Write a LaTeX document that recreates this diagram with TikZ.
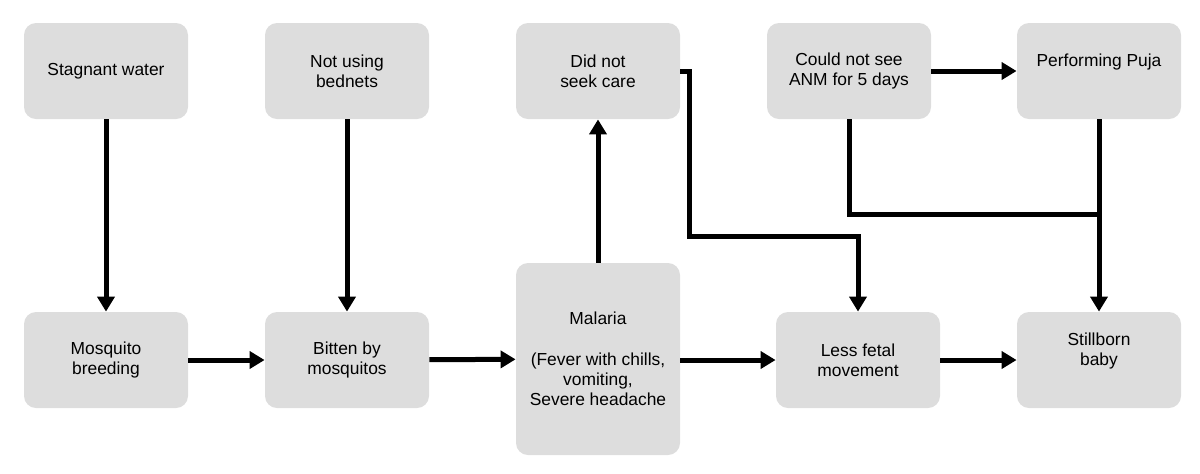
\documentclass[tikz,border=0pt]{standalone}
\usepackage{fontspec}
\setmainfont{Liberation Sans}
\usetikzlibrary{arrows.meta}
\definecolor{boxgray}{HTML}{DDDDDD}
\begin{document}
\begin{tikzpicture}[x=0.5pt,y=-0.5pt,
  box/.style={fill=boxgray,draw=none,rounded corners=6pt,minimum width=82pt,minimum height=48pt,
    align=center,font=\fontsize{8.7}{10.2}\selectfont,inner sep=0pt},
  conn/.style={line width=2.5pt,-{Triangle[length=7.5pt,width=8.5pt]}},
  plain/.style={line width=2.5pt}]
\useasboundingbox (0,0) rectangle (1200,473);
% top row
\node[box] (sw) at (106,71) {Stagnant water};
\node[box] (nb) at (347,71) {Not using\\bednets};
\node[box] (dn) at (598,71) {Did not\\seek care};
\node[box] (cn) at (849,71) {Could not see\\ANM for 5 days};
\node[box] (pp) at (1099,71) {};
\node[font=\fontsize{8.7}{10.2}\selectfont] (pptext) at (1099,62) {Performing Puja};
% bottom row
\node[box] (mb) at (106,360) {Mosquito\\breeding};
\node[box] (bm) at (347,360) {Bitten by\\mosquitos};
\node[box,minimum height=96pt] (ma) at (598,359) {Malaria\\[10pt](Fever with chills,\\vomiting,\\Severe headache};
\node[box] (lf) at (858,360) {Less fetal\\movement};
\node[box] (sb) at (1099,360) {};
\node[font=\fontsize{8.7}{10.2}\selectfont,align=center] (sbtext) at (1099,351) {Stillborn\\baby};
\coordinate (j1) at (849,214);
\coordinate (j2) at (1099,214);
\coordinate (d1) at (689,71);
\coordinate (d2) at (689,236);
\coordinate (d3) at (858,236);
% connectors
\draw[conn] (sw) -- (mb);
\draw[conn] (nb) -- (bm);
\draw[conn] (ma) -- (dn);
\draw[conn] (mb) -- (bm);
\draw[conn] (bm) -- (ma);
\draw[conn] (ma.east |- lf) -- (lf);
\draw[conn] (lf) -- (sb);
\draw[conn] (cn) -- (pp);
\draw[conn] (dn.east) -- (d1) -- (d2) -- (d3) -- (lf.north);
\draw[plain] (cn.south) -- (j1) -- (j2);
\draw[conn] (pp.south) -- (sb.north);
\end{tikzpicture}
\end{document}
